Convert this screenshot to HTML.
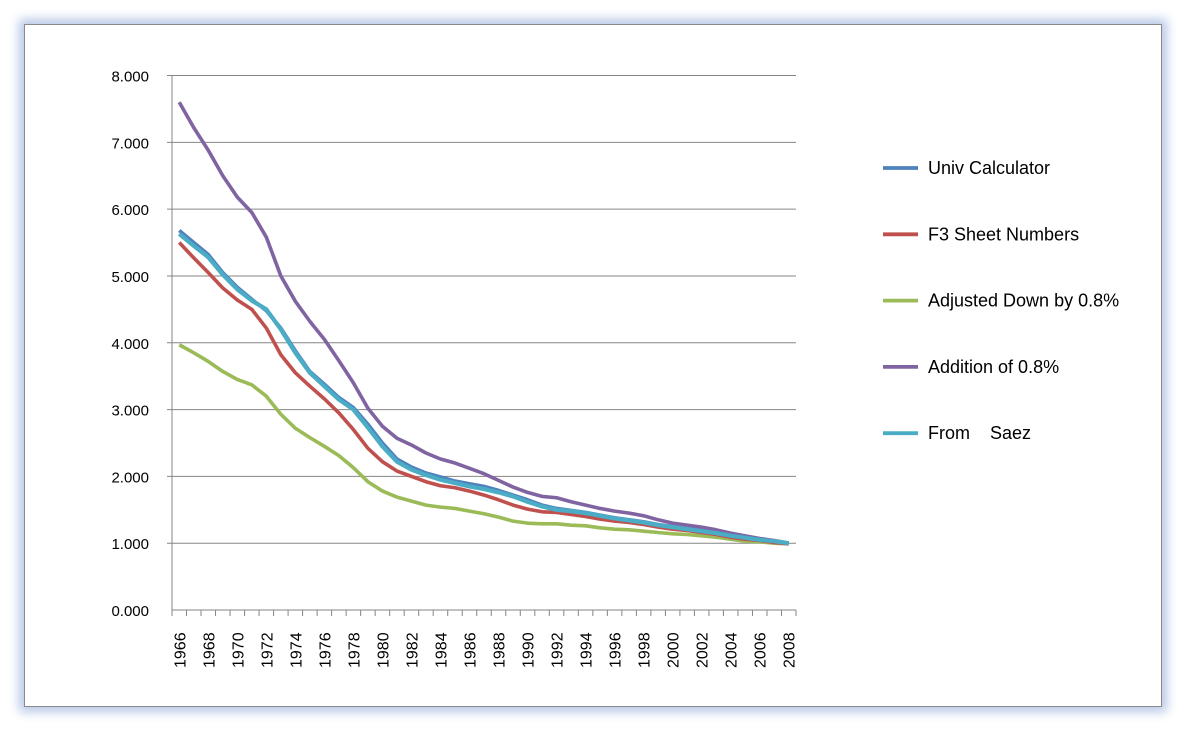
<!DOCTYPE html>
<html><head><meta charset="utf-8"><style>
body{margin:0;background:#fff;font-family:"Liberation Sans",sans-serif}
#frame{position:absolute;left:24px;top:24px;width:1136px;height:681px;border:1px solid #8a8a8a;box-shadow:0 0 10px 5px #b8c8e8;background:#fff}
text{white-space:pre}
</style></head><body>
<div id="frame"></div>
<svg id="c" width="1185" height="731" style="position:absolute;left:0;top:0"></svg>
<script>
const years=[];for(let y=1966;y<=2008;y++)years.push(y);
const univ=[5.68,5.5,5.32,5.05,4.83,4.65,4.48,4.22,3.88,3.57,3.38,3.18,3.03,2.78,2.5,2.26,2.14,2.05,1.99,1.93,1.89,1.85,1.79,1.72,1.65,1.57,1.52,1.49,1.46,1.42,1.38,1.35,1.32,1.28,1.25,1.22,1.19,1.16,1.12,1.09,1.06,1.03,1.0];
const f3=[5.5,5.27,5.05,4.82,4.64,4.5,4.22,3.82,3.55,3.35,3.16,2.95,2.7,2.42,2.22,2.08,2.0,1.92,1.86,1.83,1.78,1.72,1.65,1.57,1.51,1.47,1.46,1.43,1.4,1.36,1.33,1.31,1.28,1.24,1.21,1.19,1.16,1.13,1.09,1.06,1.04,1.01,0.99];
const down=[3.97,3.85,3.72,3.57,3.45,3.37,3.2,2.93,2.72,2.58,2.45,2.31,2.13,1.92,1.78,1.69,1.63,1.57,1.54,1.52,1.48,1.44,1.39,1.33,1.3,1.29,1.29,1.27,1.26,1.23,1.21,1.2,1.18,1.16,1.14,1.13,1.11,1.09,1.06,1.03,1.02,1.0,0.99];
const add=[7.6,7.22,6.88,6.5,6.18,5.95,5.58,5.0,4.62,4.32,4.05,3.73,3.4,3.02,2.75,2.57,2.47,2.35,2.26,2.2,2.12,2.04,1.94,1.84,1.76,1.7,1.68,1.62,1.57,1.52,1.48,1.45,1.41,1.35,1.3,1.27,1.24,1.2,1.15,1.11,1.07,1.04,1.0];
const saez=[5.63,5.45,5.28,5.02,4.8,4.63,4.5,4.2,3.85,3.55,3.35,3.15,3.0,2.73,2.45,2.22,2.1,2.02,1.95,1.9,1.85,1.81,1.76,1.7,1.62,1.55,1.5,1.48,1.45,1.41,1.37,1.34,1.31,1.27,1.24,1.21,1.18,1.15,1.11,1.08,1.05,1.03,1.0];
const yTicks=[0,1,2,3,4,5,6,7,8];
const seriesNames=["Univ Calculator","F3 Sheet Numbers","Adjusted Down by 0.8%","Addition of 0.8%","From    Saez"];
const NS="http://www.w3.org/2000/svg",svg=document.getElementById('c');
const L=172,R=796,T=75.5,B=610;
const step=(R-L)/years.length;
const xs=i=>L+step*(i+0.5), ys=v=>B-(B-T)*v/8;
function mk(t,a,p){const e=document.createElementNS(NS,t);for(const k in a)e.setAttribute(k,a[k]);(p||svg).appendChild(e);return e;}
yTicks.forEach(v=>{
 const g=mk('line',{x1:v===0?L:L-5,x2:R,y1:ys(v),y2:ys(v),stroke:'#868686','stroke-width':1});
 
 
 const t=mk('text',{x:L-23,y:ys(v)+6,'text-anchor':'end','font-size':15,fill:'#000'});t.textContent=v.toFixed(3);
 
 
});
mk('line',{x1:L,x2:L,y1:T,y2:B,stroke:'#868686'});
years.forEach((y,i)=>{
 mk('line',{x1:L+step*i,x2:L+step*i,y1:B,y2:B+6,stroke:'#868686'});
 if(i%2===0){const t=mk('text',{x:0,y:0,'font-size':16,fill:'#000',transform:`translate(${xs(i)+6},${B+58}) rotate(-90)`});t.textContent=y;
 
 }
});
mk('line',{x1:R,x2:R,y1:B,y2:B+6,stroke:'#868686'});
const data=[down,f3,add,univ,saez],cols=['#9bbb59','#c0504d','#8064a2','#4f81bd','#4bacc6'],names=['adjusted-down','f3-sheet','addition','univ-calculator','saez'];
data.forEach((d,k)=>{
 const p=mk('polyline',{points:d.map((v,i)=>xs(i)+','+ys(v)).join(' '),fill:'none',stroke:cols[k],'stroke-width':k===4?4.2:3.6,'stroke-linejoin':'round'});
 
 
});
const lc=['#4f81bd','#c0504d','#9bbb59','#8064a2','#4bacc6'];
seriesNames.forEach((n,i)=>{
 const y=168+i*66.3;
 const g=mk('g',{});
 
 
 mk('line',{x1:883,x2:918,y1:y,y2:y,stroke:lc[i],'stroke-width':3.8},g);
 const t=mk('text',{x:928,y:y+6,'font-size':18,fill:'#000','xml:space':'preserve'},g);t.textContent=n;
});
</script>
</body></html>
